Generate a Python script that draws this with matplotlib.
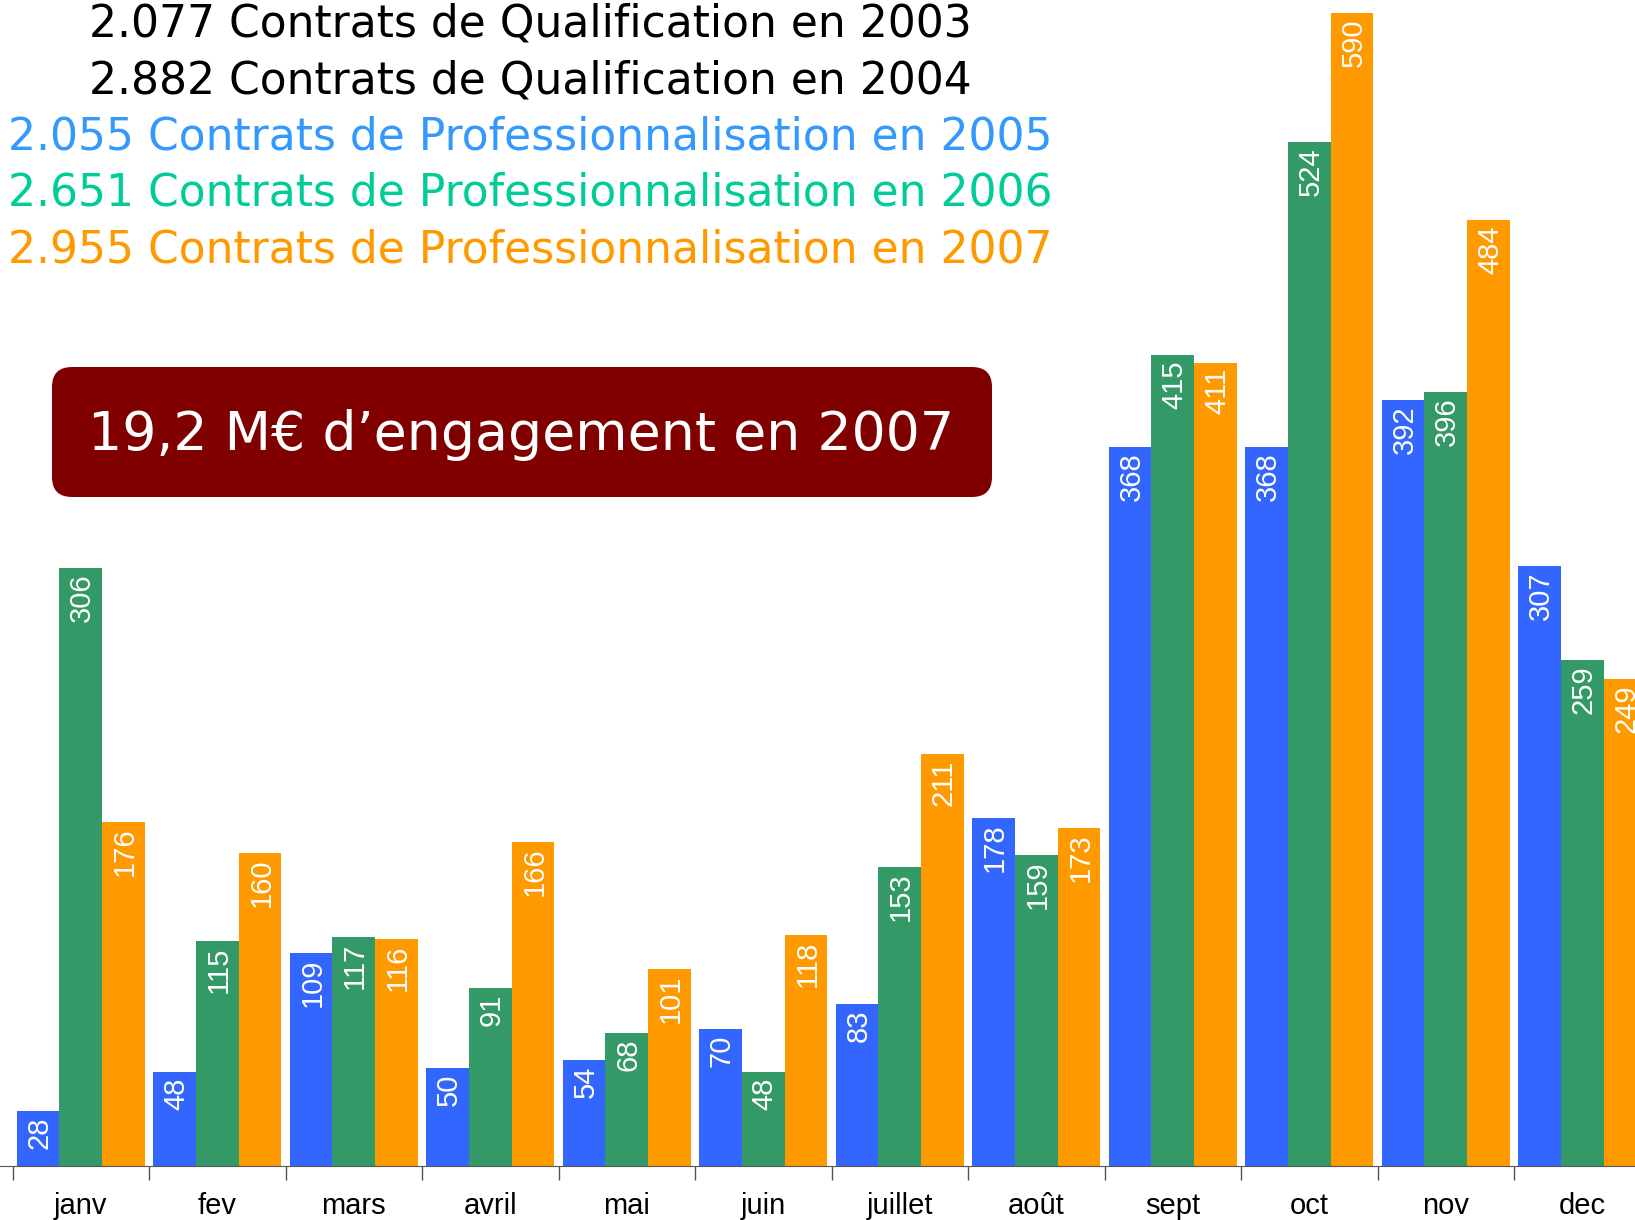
import matplotlib
matplotlib.use("Agg")
import matplotlib.pyplot as plt
import matplotlib.patches as mpatches
import numpy as np

months = ['janv', 'fev', 'mars', 'avril', 'mai', 'juin',
          'juillet', 'août', 'sept', 'oct', 'nov', 'dec']
v2005 = [28, 48, 109, 50, 54, 70, 83, 178, 368, 368, 392, 307]
v2006 = [306, 115, 117, 91, 68, 48, 153, 159, 415, 524, 396, 259]
v2007 = [176, 160, 116, 166, 101, 118, 211, 173, 411, 590, 484, 249]

header_lines = [
    '2.077 Contrats de Qualification en 2003',
    '2.882 Contrats de Qualification en 2004',
    '2.055 Contrats de Professionnalisation en 2005',
    '2.651 Contrats de Professionnalisation en 2006',
    '2.955 Contrats de Professionnalisation en 2007',
]
header_colors = ['black', 'black', '#3399ff', '#00cc99', '#ff9900']
box_text = '19,2 M€ d’engagement en 2007'

bar_colors = ['#3366ff', '#339966', '#ff9900']

W, H = 1635, 1220
fig = plt.figure(figsize=(W / 100, H / 100), dpi=100)

# axes: baseline at y=1166 px from top, top of axes at figure top
base = 1166
ax = fig.add_axes([0, (H - base) / H, 1, base / H])
x = np.arange(len(months))
bw = 0.313
ax.set_xlim(-0.592, -0.592 + W / 136.5)
ax.set_ylim(0, base / (1106 * 1.0427 / 590))

for k, vals in enumerate([v2005, v2006, v2007]):
    bars = ax.bar(x + (k - 1) * bw, vals, bw, color=bar_colors[k], linewidth=0)
    for b, v in zip(bars, vals):
        ax.annotate(str(v), (b.get_x() + b.get_width() / 2, v),
                    xytext=(1, -4), textcoords='offset points',
                    rotation=90, ha='center', va='top', color='white',
                    fontsize=21, family='Liberation Sans')

for s in ['top', 'right', 'left']:
    ax.spines[s].set_visible(False)
ax.spines['bottom'].set_color('#555555')
ax.set_yticks([])
ax.set_xticks(x)
ax.set_xticklabels(months, fontsize=21, family='Liberation Sans')
ax.tick_params(axis='x', which='major', length=0, pad=19)
ax.set_xticks(np.r_[-0.5, x[:-1] + 0.5], minor=True)
ax.tick_params(axis='x', which='minor', length=10, color='#555555', width=1)

# header lines, fitted to measured widths
renderer = fig.canvas.get_renderer()
targets = [883, 883, 1043, 1043, 1043]
ys = [24, 81, 137, 193, 250]
for txt, col, tw, yy in zip(header_lines, header_colors, targets, ys):
    t = fig.text(530 / W, 1 - yy / H, txt, ha='center', va='center',
                 color=col, fontsize=30, family='DejaVu Sans')
    w = t.get_window_extent(renderer).width
    t.set_fontsize(30 * tw / w)

box = mpatches.FancyBboxPatch((0.52, (H - 497) / 100), 9.40, 1.30,
                              boxstyle='round,pad=0,rounding_size=0.2',
                              transform=fig.dpi_scale_trans,
                              facecolor='#800000', edgecolor='none')
fig.add_artist(box)
t = fig.text(521 / W, 1 - 435 / H, box_text, ha='center', va='center',
             color='white', fontsize=40, family='DejaVu Sans')
w = t.get_window_extent(renderer).width
t.set_fontsize(40 * 865 / w)

fig.savefig('out.png', dpi=100)
